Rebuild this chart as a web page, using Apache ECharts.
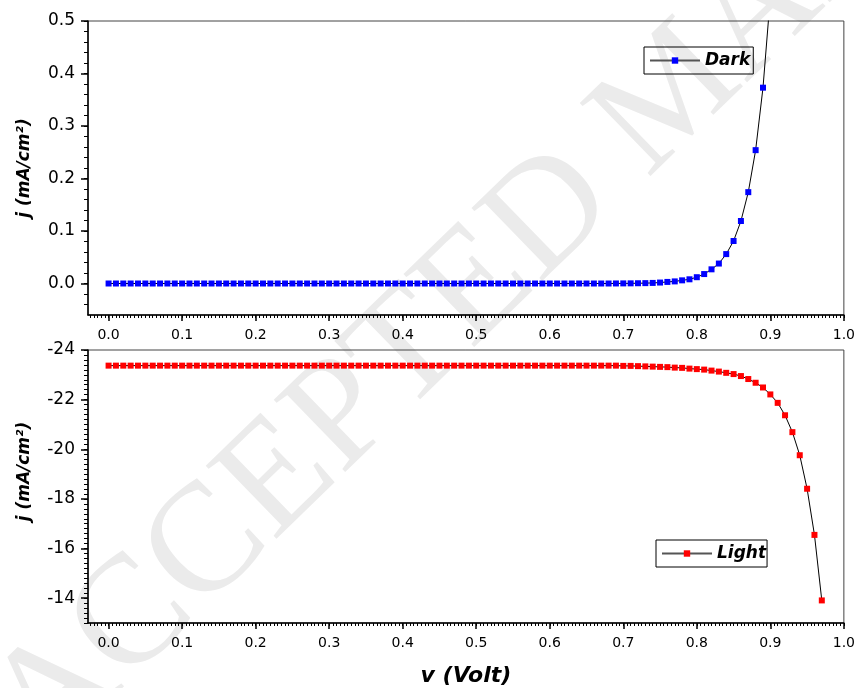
<!DOCTYPE html>
<html>
<head>
<meta charset="utf-8">
<script src="https://cdn.jsdelivr.net/npm/echarts@6/dist/echarts.min.js"></script>
<style>
  html, body { margin: 0; padding: 0; background: #fff; }
  #chart { width: 858px; height: 688px; }
</style>
</head>
<body>
<div id="chart"></div>
<script>
// voltage sweep (V)
const darkV = [0.00, 0.01, 0.02, 0.03, 0.04, 0.05, 0.06, 0.07, 0.08, 0.09,
  0.10, 0.11, 0.12, 0.13, 0.14, 0.15, 0.16, 0.17, 0.18, 0.19,
  0.20, 0.21, 0.22, 0.23, 0.24, 0.25, 0.26, 0.27, 0.28, 0.29,
  0.30, 0.31, 0.32, 0.33, 0.34, 0.35, 0.36, 0.37, 0.38, 0.39,
  0.40, 0.41, 0.42, 0.43, 0.44, 0.45, 0.46, 0.47, 0.48, 0.49,
  0.50, 0.51, 0.52, 0.53, 0.54, 0.55, 0.56, 0.57, 0.58, 0.59,
  0.60, 0.61, 0.62, 0.63, 0.64, 0.65, 0.66, 0.67, 0.68, 0.69,
  0.70, 0.71, 0.72, 0.73, 0.74, 0.75, 0.76, 0.77, 0.78, 0.79,
  0.80, 0.81, 0.82, 0.83, 0.84, 0.85, 0.86, 0.87, 0.88, 0.89, 0.90];
// dark current density (mA/cm2)
const darkJ = [0, 0, 0, 0, 0, 0, 0, 0, 0, 0,
  0, 0, 0, 0, 0, 0, 0, 0, 0, 0,
  0, 0, 0, 0, 0, 0, 0, 0, 0, 0,
  0, 0, 0, 0, 0, 0, 0, 0, 0, 0,
  0, 0, 0, 0, 0, 0, 0, 0, 0, 0,
  0, 0, 0, 0, 0, 0, 0, 0, 0, 0,
  0, 0, 0, 0, 0, 0, 0, 0, 0, 0.0001,
  0.0002, 0.0003, 0.0005, 0.0007, 0.0011, 0.0018, 0.003, 0.004, 0.006, 0.008,
  0.012, 0.018, 0.027, 0.038, 0.056, 0.081, 0.119, 0.174, 0.254, 0.373, 0.546];

const lightV = [0.00, 0.01, 0.02, 0.03, 0.04, 0.05, 0.06, 0.07, 0.08, 0.09,
  0.10, 0.11, 0.12, 0.13, 0.14, 0.15, 0.16, 0.17, 0.18, 0.19,
  0.20, 0.21, 0.22, 0.23, 0.24, 0.25, 0.26, 0.27, 0.28, 0.29,
  0.30, 0.31, 0.32, 0.33, 0.34, 0.35, 0.36, 0.37, 0.38, 0.39,
  0.40, 0.41, 0.42, 0.43, 0.44, 0.45, 0.46, 0.47, 0.48, 0.49,
  0.50, 0.51, 0.52, 0.53, 0.54, 0.55, 0.56, 0.57, 0.58, 0.59,
  0.60, 0.61, 0.62, 0.63, 0.64, 0.65, 0.66, 0.67, 0.68, 0.69,
  0.70, 0.71, 0.72, 0.73, 0.74, 0.75, 0.76, 0.77, 0.78, 0.79,
  0.80, 0.81, 0.82, 0.83, 0.84, 0.85, 0.86, 0.87, 0.88, 0.89,
  0.90, 0.91, 0.92, 0.93, 0.94, 0.95, 0.96, 0.97];
// light current density (mA/cm2)
const lightJ = [-23.37, -23.37, -23.37, -23.37, -23.37, -23.37, -23.37, -23.37, -23.37, -23.37,
  -23.37, -23.37, -23.37, -23.37, -23.37, -23.37, -23.37, -23.37, -23.37, -23.37,
  -23.37, -23.37, -23.37, -23.37, -23.37, -23.37, -23.37, -23.37, -23.37, -23.37,
  -23.37, -23.37, -23.37, -23.37, -23.37, -23.37, -23.37, -23.37, -23.37, -23.37,
  -23.37, -23.37, -23.37, -23.37, -23.37, -23.37, -23.37, -23.37, -23.37, -23.37,
  -23.37, -23.37, -23.37, -23.37, -23.37, -23.37, -23.37, -23.37, -23.37, -23.37,
  -23.37, -23.37, -23.37, -23.37, -23.37, -23.37, -23.37, -23.37, -23.37, -23.37,
  -23.36, -23.36, -23.35, -23.34, -23.33, -23.32, -23.31, -23.29, -23.28, -23.25,
  -23.23, -23.21, -23.17, -23.13, -23.08, -23.03, -22.95, -22.83, -22.68, -22.49,
  -22.21, -21.87, -21.37, -20.69, -19.76, -18.41, -16.55, -13.91];

const xTicks = [0, 0.1, 0.2, 0.3, 0.4, 0.5, 0.6, 0.7, 0.8, 0.9, 1.0];
const darkTicks = [0, 0.1, 0.2, 0.3, 0.4, 0.5];
const lightTicks = [-24, -22, -20, -18, -16, -14];

// minor tick positions
function steps(from, to, step) {
  const out = [];
  const n = Math.round((to - from) / step);
  for (let i = 0; i <= n; i++) out.push(+(from + i * step).toFixed(4));
  return out;
}
const xMinor = steps(-0.025, 1.0, 0.005);
const darkMinor = steps(-0.04, 0.5, 0.02);
const lightMinor = steps(-24, -13, 0.2);

const font = 'DejaVu Sans, sans-serif';
const xMin = -0.028, xMax = 1.0;

function pairs(xs, ys) { return xs.map((x, i) => [x, ys[i]]); }

function mainX(gi) {
  return {
    type: 'value', gridIndex: gi, position: 'bottom', min: xMin, max: xMax,
    axisLine: { onZero: false, lineStyle: { color: '#000', width: 1.5 } },
    axisTick: { customValues: xTicks, length: 6, lineStyle: { color: '#000', width: 1.5 } },
    axisLabel: { customValues: xTicks, formatter: v => v.toFixed(1), margin: 13,
      color: '#000', fontSize: 14, fontFamily: font },
    splitLine: { show: false },
    name: gi === 1 ? 'v (Volt)' : '', nameLocation: 'middle', nameGap: 42,
    nameTextStyle: { fontSize: 22, fontWeight: 'bold', fontStyle: 'italic', color: '#000', fontFamily: font }
  };
}
function minorX(gi) {
  return {
    type: 'value', gridIndex: gi, position: 'bottom', min: xMin, max: xMax,
    axisLine: { show: false, onZero: false },
    axisTick: { customValues: xMinor, length: 3, lineStyle: { color: '#000' } },
    axisLabel: { show: false },
    splitLine: { show: false }
  };
}

const yName = 'j (mA/cm²)';
const yNameStyle = { fontSize: 17, fontWeight: 'bold', fontStyle: 'italic', color: '#000', fontFamily: font };
const legendText = { fontSize: 17, fontWeight: 'bold', fontStyle: 'italic', color: '#000', fontFamily: font };

const chart = echarts.init(document.getElementById('chart'));
chart.setOption({
  backgroundColor: '#fff',
  animation: false,
  graphic: [{
    type: 'text', z: -10, silent: true,
    x: 70, y: 790, rotation: 0.77,
    style: { text: 'ACCEPTED MANUSCRIPT', fill: '#ebebeb', fontSize: 155,
      fontFamily: 'Liberation Serif, DejaVu Serif, serif', verticalAlign: 'bottom' }
  }],
  grid: [
    { left: 88, top: 21, width: 760, height: 294, show: true, borderColor: '#444', borderWidth: 1 },
    { left: 88, top: 350, width: 760, height: 275, show: true, borderColor: '#444', borderWidth: 1 }
  ],
  legend: [
    { data: ['Dark'], left: 644, top: 47, itemWidth: 50, itemHeight: 8, itemGap: 6,
      borderColor: '#000', borderWidth: 1, padding: [5, 3, 5, 5],
      lineStyle: { color: '#555' }, textStyle: legendText },
    { data: ['Light'], left: 656, top: 540, itemWidth: 50, itemHeight: 8, itemGap: 6,
      borderColor: '#000', borderWidth: 1, padding: [5, 1, 5, 5],
      lineStyle: { color: '#555' }, textStyle: legendText }
  ],
  xAxis: [mainX(0), minorX(0), mainX(1), minorX(1)],
  yAxis: [
    {
      type: 'value', gridIndex: 0, position: 'left', min: -0.06, max: 0.5,
      axisLine: { onZero: false, lineStyle: { color: '#000', width: 1.5 } },
      axisTick: { customValues: darkTicks, length: 7, lineStyle: { color: '#000', width: 1.5 } },
      axisLabel: { customValues: darkTicks, formatter: v => v.toFixed(1), margin: 13,
        color: '#000', fontSize: 17, fontFamily: font },
      splitLine: { show: false },
      name: yName, nameLocation: 'middle', nameRotate: 90, nameGap: 55, nameTextStyle: yNameStyle
    },
    {
      type: 'value', gridIndex: 0, position: 'left', min: -0.06, max: 0.5,
      axisLine: { show: false, onZero: false },
      axisTick: { customValues: darkMinor, length: 4, lineStyle: { color: '#000' } },
      axisLabel: { show: false }, splitLine: { show: false }
    },
    {
      type: 'value', gridIndex: 1, position: 'left', min: -24, max: -13, inverse: true,
      axisLine: { onZero: false, lineStyle: { color: '#000', width: 1.5 } },
      axisTick: { customValues: lightTicks, length: 7, lineStyle: { color: '#000', width: 1.5 } },
      axisLabel: { customValues: lightTicks, margin: 13, color: '#000', fontSize: 17, fontFamily: font },
      splitLine: { show: false },
      name: yName, nameLocation: 'middle', nameRotate: 90, nameGap: 55,
      nameTextStyle: Object.assign({}, yNameStyle, { padding: [0, 0, 0, 30] })
    },
    {
      type: 'value', gridIndex: 1, position: 'left', min: -24, max: -13, inverse: true,
      axisLine: { show: false, onZero: false },
      axisTick: { customValues: lightMinor, length: 4, lineStyle: { color: '#000' } },
      axisLabel: { show: false }, splitLine: { show: false }
    }
  ],
  series: [
    {
      name: 'Dark', type: 'line', xAxisIndex: 0, yAxisIndex: 0,
      data: pairs(darkV, darkJ), clip: true, z: 3,
      symbol: 'rect', symbolSize: 6, showAllSymbol: true,
      lineStyle: { color: '#000', width: 1 },
      itemStyle: { color: '#0000ff' }
    },
    {
      name: 'Light', type: 'line', xAxisIndex: 2, yAxisIndex: 2,
      data: pairs(lightV, lightJ), clip: true, z: 3,
      symbol: 'rect', symbolSize: 6, showAllSymbol: true,
      lineStyle: { color: '#000', width: 1 },
      itemStyle: { color: '#ff0000' }
    }
  ]
});
</script>
</body>
</html>
